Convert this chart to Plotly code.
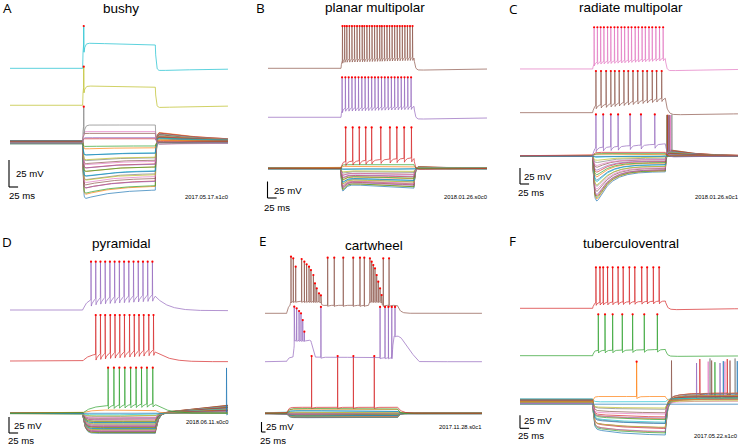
import numpy as np
import plotly.graph_objects as go

W, H = 738, 446
TAB10 = ["#1f77b4", "#ff7f0e", "#2ca02c", "#d62728", "#9467bd",
         "#8c564b", "#e377c2", "#7f7f7f", "#bcbd22", "#17becf"]

REST_SPREAD = [0.0, 0.7, -0.5, 1.0, -0.9, 0.3, -0.2, 1.3, -1.2, 0.5, -0.7, 0.9]

# ======================= DATA (mV re. rest, ms re. step onset) =======================
# ---- A: bushy ----
A_family_levels = [-43.5, -41, -38.9, -36.4, -34.5, -33.3, -31, -30.2, -28.1, -26.5,
                   -25.6, -23.5, -22.5, -20.5, -19.4, -17.5, -16.4, -14.5, -13.3, -11.1,
                   -8.6, -5.6, -2.5, 2.2, 4.3, 7.4, 10.5]
A_spk_offset = [0, 34.3, 68.5]
A_spk_level = [16, 16.7, 21.6]
A_spk_drift = [0, -1.2, -1.8]
A_spk_times = [[3], [3], [3]]
A_spk_peaks = [33, 35.7, 39.2]
A_spk_post = [-2, -2.2, -2.2]

# ---- B: planar multipolar ----
B_family_levels = [-30, -28.5, -27.5, -26, -25, -23.8, -22.7, -21.5, -20, -19, -17.7,
                   -16.5, -15, -13.5, -11.6, -10, -8.5, -6.5, -4.5, -2.5, 0, 2.5, 6]
B_spk_offset = [0, 77.3, 151.5]
B_spk_level = [16, 17, 17]
B_spk_drift = [6, 3, 3]
B_spk_times = [[12.8, 32, 50, 67.7, 84, 109, 134, 153, 173, 193],
               [3, 12, 21, 30, 39, 48, 57, 66, 75, 84, 93, 102, 111, 120, 129, 138, 147,
                156, 165, 174, 183, 192],
               [4, 10, 16, 23, 30, 37, 44, 51, 58, 64, 71, 78, 85, 92, 99, 106, 112, 119,
                126, 133, 140, 147, 154, 161, 168, 175, 182, 189, 196]]
B_spk_peaks = [62, 60.6, 64]
B_spk_post = [-2, -3, -3]

# ---- C: radiate multipolar ----
C_family_levels = [-24.5, -23.5, -22.5, -21.9, -20.8, -19.3, -18, -16.7, -15.5, -14, -13,
                   -11.5, -10.2, -8.9, -7.6, -6.3, -5, -3.6, -2.3, -1, 0.8, 2.6, 4, 5.2]
C_rebound_index = [0, 1, 2, 3, 4, 5, 6, 7]
C_rebound_times = [204, 205, 206, 207, 209, 211, 214, 218]
C_rebound_peak = 64
C_spk_offset = [0, 67.7, 136]
C_spk_level = [19, 23, 17]
C_spk_drift = [6, 12, 6]
C_spk_times = [[9, 29, 50, 70, 103, 133, 171],
               [9, 23, 37, 50, 61, 73, 86, 98, 111, 124, 138, 150, 164, 176, 190],
               [4, 13, 22, 31, 41, 50, 60, 69, 79, 88, 98, 107, 117, 126, 136, 145, 155,
                164, 174, 184, 194]]
C_spk_peaks = [65, 65.1, 65.2]
C_spk_post = [-2, -3.6, -3]

# ---- D: pyramidal ----
D_family_levels = [-31.3, -30.6, -29.8, -29.1, -28.2, -27.4, -26.6, -25.9, -25.1, -24.3,
                   -23.5, -22.7, -21.9, -21.2, -20.4, -19.3, -18.2, -17.2, -16.2, -15.1,
                   -14.1, -13.1, -12.0, -10.7, -9.4, -8.1, -6.8, -5.2, -3.7, -2.4, -0.9, 4.7]
D_late_index = [30]
D_late_times = [396]
D_late_peak = 71
D_spk_offset = [0, 81.7, 161.4]
D_spk_level = [15, 18, 24]
D_spk_drift = [4, 8, 6]
D_spk_times = [[70, 86, 101, 116, 132, 147, 162, 177, 193],
               [36, 49, 62, 76, 89, 102, 115, 129, 142, 155, 168, 182, 195],
               [23, 36, 49, 62, 75, 88, 101, 114, 127, 140, 153, 166, 179, 192]]
D_spk_peaks = [71.3, 71.9, 75.5]
D_spk_post = [0, -2, -2]

# ---- E: cartwheel ----
E_family_levels = [-11, -10.5, -10, -9.5, -9, -8.5, -8, -7.5, -7, -6.5, -6, -5, -4, -3,
                   -2, -1, 0, 1.5, 3, 5, 7.5, 10, 12.5]
E_spk_offset = [0, 129, 250]
E_spk_level = [15, 10, 20]
E_spk_drift = [0, -2, 0]
E_spk_times = [[155, 317, 415, 545],
               [47, 62, 77, 89, 100, 110, 213, 581, 612, 633, 654, 674],
               [26.8, 41, 56, 93, 110, 124, 139, 151, 166, 176, 187, 201, 213, 255, 296,
                352, 414, 456, 483, 518, 529, 539, 549.5, 560, 570, 581, 591, 601, 637]]
E_spk_peaks = [[143],
               [137.5, 133.5, 126.8, 121, 104, 75, 137, 137, 137, 137, 137, 137],
               [141.5, 137.5, 116.5, 135.8, 129, 122.5, 116.5, 108, 95.8, 75, 62.5, 50,
                45, 139, 139, 139, 139, 139, 139, 137.5, 129, 120.8, 112.5, 95.8, 79,
                62.5, 45.8, 137.5, 137.5]]
E_spk_humps = [[], [(40, 175, 42, 10, 25), (655, 820, 55, 10, 110)],
               [(20, 225, 10, 5, 20), (510, 600, 10, 5, 15)]]
E_spk_post = [0, 0, 0]

# ---- F: tuberculoventral ----
F_family_levels = [-65, -62, -59, -56.5, -54.5, -52, -50, -47.5, -45, -42, -39.7, -37,
                   -35, -32.5, -30, -25.6, -20.5, -16, -11.5, -6.4, 1.3]
F_rebound_index = [5, 5, 5, 4, 4, 3, 3, 6, 6, 7, 7, 2, 0, 0]
F_rebound_times = [217, 327.5, 378, 286, 350.5, 295, 370.5, 318, 364, 323, 392, 336.5,
                   359.6, 398]
F_rebound_peak = 78
F_spk_offset = [0, 88.5, 179.6]
F_spk_level = [10, 12, 14]
F_spk_drift = [0, 2, 3]
F_spk_times = [[121],
               [15.5, 34, 55, 81.5, 110, 142, 178],
               [9, 20, 29, 41, 55, 70, 84, 101, 116, 135, 150, 167, 183]]
F_spk_peaks = [77, 79.6, 78.8]
F_spk_post = [5, -1.5, -3.2]

PANEL_TITLES = ["bushy", "planar multipolar", "radiate multipolar",
                "pyramidal", "cartwheel", "tuberculoventral"]
PANEL_LETTERS = ["A", "B", "C", "D", "E", "F"]
PANEL_IDS = ["2017.05.17.s1c0", "2018.01.26.s0c0", "2018.01.26.s0c1",
             "2018.06.11.s0c0", "2017.11.28.s0c1", "2017.05.22.s1c0"]
SCALE_MV, SCALE_MS = 25, 25

# ======================= geometry / style =======================
GEOM = [
    dict(cell=(0, 245, 0, 223), x0=10, sx=0.3633, y0=142.3, sy=1.08,
         bar=(9, 187), mv=(15, 173.5), ms=(8, 196), idp=(206.7, 196.7),
         let=(1.5, 8), tit=(121, 8)),
    dict(cell=(245, 490, 0, 223), x0=268, sx=0.365, y0=168.3, sy=0.66,
         bar=(267.5, 198), mv=(273, 190.5), ms=(263, 207), idp=(465.5, 196.7),
         let=(255, 8), tit=(374.7, 7.5)),
    dict(cell=(490, 738, 0, 223), x0=520, sx=0.3633, y0=156, sy=0.64,
         bar=(520, 184), mv=(523, 176), ms=(517, 192.7), idp=(716.3, 196.7),
         let=(508, 8.5), tit=(630.5, 7.5)),
    dict(cell=(0, 245, 223, 446), x0=10, sx=0.3633, y0=413.3, sy=0.64,
         bar=(9, 433), mv=(13, 425), ms=(7, 440.5), idp=(206.7, 421.7),
         let=(1, 242), tit=(121.3, 243.3)),
    dict(cell=(245, 490, 223, 446), x0=265, sx=0.1607, y0=413.3, sy=0.4,
         bar=(261.5, 432), mv=(265, 426.7), ms=(259, 440.5), idp=(460.3, 426.7),
         let=(258, 241), tit=(374.5, 245)),
    dict(cell=(490, 738, 223, 446), x0=520, sx=0.3633, y0=401.7, sy=0.52,
         bar=(520, 428.3), mv=(523, 420), ms=(517, 435.7), idp=(715.7, 435.7),
         let=(508, 241), tit=(630.5, 243.3)),
]

PROTO = [dict(on=200, off=400, T=600, dt=1.0), dict(on=200, off=400, T=600, dt=1.0),
         dict(on=200, off=400, T=600, dt=1.0), dict(on=200, off=400, T=600, dt=1.0),
         dict(on=135, off=825, T=1350, dt=2.0), dict(on=200, off=400, T=600, dt=1.0)]

FAM_STYLE = [
    dict(tm=1.5, sag=0.22, ts=80, toff=2, reb=-0.22, reb_pos=-0.12, trise=2, tdec=150, rest=1.2),
    dict(tm=2, sag=0.9, ts=8, drift=0.2, toff=3, reb=-0.1, reb_pos=-0.05, trise=3, tdec=40, rest=0.8),
    dict(tm=4, sag=2.9, ts=35, toff=3, reb=-0.5, reb_pos=-0.1, trise=3, tdec=70, rest=0.5),
    dict(tm=6, tm_pos=20, sag=0, toff=8, pdrift=-0.4, rest=0.4),
    dict(tm=12, sag=0, toff=12, rest=1.0),
    dict(tm=3, sag=-0.2, ts=80, toff=5, reb=-0.22, trise=30, tdec=1e9, rest=4.0),
]
SPK_STYLE = [
    dict(tm=[1, 1, 1], ahp=[8, 6, 8], tau=[3, 3, 3], toff=[2, 2, 2], tdec=[100, 200, 200]),
    dict(tm=[3, 2, 2], ahp=[6, 5, 5], tau=[4, 3, 2.5], toff=[3, 3, 3], tdec=[100, 200, 200]),
    dict(tm=[3, 3, 3], ahp=[6, 5, 4], tau=[4, 4, 3], toff=[5, 6, 3], tdec=[100, 300, 150]),
    dict(tm=[20, 15, 12], ahp=[5, 9, 10], tau=[5, 5, 5], toff=[30, 35, 35], tdec=[300, 300, 300]),
    dict(tm=[10, 10, 8], ahp=[3, 3, 3], tau=[10, 10, 8], toff=[25, 40, 15], tdec=[300, 300, 300]),
    dict(tm=[3, 3, 3], ahp=[4, 5, 5], tau=[5, 4, 3], toff=[5, 5, 6], tdec=[1e9, 200, 150]),
]

DATA = [
    dict(fam=A_family_levels, off=A_spk_offset, lev=A_spk_level, dr=A_spk_drift,
         st=A_spk_times, pk=A_spk_peaks, post=A_spk_post),
    dict(fam=B_family_levels, off=B_spk_offset, lev=B_spk_level, dr=B_spk_drift,
         st=B_spk_times, pk=B_spk_peaks, post=B_spk_post),
    dict(fam=C_family_levels, off=C_spk_offset, lev=C_spk_level, dr=C_spk_drift,
         st=C_spk_times, pk=C_spk_peaks, post=C_spk_post,
         late=(C_rebound_index, C_rebound_times, C_rebound_peak)),
    dict(fam=D_family_levels, off=D_spk_offset, lev=D_spk_level, dr=D_spk_drift,
         st=D_spk_times, pk=D_spk_peaks, post=D_spk_post,
         late=(D_late_index, D_late_times, D_late_peak)),
    dict(fam=E_family_levels, off=E_spk_offset, lev=E_spk_level, dr=E_spk_drift,
         st=E_spk_times, pk=E_spk_peaks, post=E_spk_post, humps=E_spk_humps),
    dict(fam=F_family_levels, off=F_spk_offset, lev=F_spk_level, dr=F_spk_drift,
         st=F_spk_times, pk=F_spk_peaks, post=F_spk_post,
         late=(F_rebound_index, F_rebound_times, F_rebound_peak)),
]


def build(p, g):
    on, off, T, dt = g["on"], g["off"], g["T"], g["dt"]
    dur = off - on
    sp = np.asarray(p.get("spikes", []), float) + on
    pk = np.asarray(p.get("peaks", [0]), float)
    pk = np.broadcast_to(pk, sp.shape).copy() if len(sp) else np.zeros(0)
    t = np.arange(0.0, T + 1e-9, dt)
    t = np.unique(np.concatenate([t, [on, off], sp - 0.4, sp, sp + 0.8]))
    t = t[(t >= 0) & (t <= T)]
    L, S, tm, ts, D = p["L"], p.get("S", 0.0), p["tm"], p.get("ts", 50.0), p.get("D", 0.0)

    def step_env(x):
        a = 1 - np.exp(-x / tm)
        return L * a + S * (np.exp(-x / ts) - np.exp(-x / tm)) + D * (x / dur - 1) * a

    v = np.zeros_like(t)
    m = (t > on) & (t <= off)
    v[m] = step_env(t[m] - on)
    vend = float(step_env(np.array([float(dur)]))[0])
    mp = t > off
    x = t[mp] - off
    v[mp] = (vend * np.exp(-x / p["toff"])
             + p.get("R", 0.0) * (1 - np.exp(-x / p.get("trise", 2.0))) * np.exp(-x / p.get("tdec", 1e9))
             + p.get("P", 0.0) * x / (T - off))
    for (a, b, amp, r, f) in p.get("humps", []):
        v += np.interp(t, [on + a, on + a + r, on + b - f, on + b], [0, amp, amp, 0], left=0, right=0)
    if len(sp):
        order = np.argsort(sp)
        sp, pk = sp[order], pk[order]
        e = v.copy()
        k = np.searchsorted(sp - 0.4, t, side="right") - 1
        ok = k >= 0
        s = sp[k[ok]]
        pp = pk[k[ok]]
        d = t[ok] - s
        ee = e[ok]
        ahp, tau = p.get("ahp", 5.0), p.get("tau", 3.0)
        out = ee - ahp * np.exp(-np.clip(d - 0.8, 0, None) / tau)
        up = d < 0
        out[up] = ee[up] + (pp[up] - ee[up]) * (d[up] + 0.4) / 0.4
        dn = (d >= 0) & (d <= 0.8)
        out[dn] = pp[dn] + (ee[dn] - ahp - pp[dn]) * d[dn] / 0.8
        v[ok] = out
    base = p.get("base", 0.0)
    return t, v + base, sp, pk + base


fig = go.Figure()
layout = dict(width=W, height=H, margin=dict(l=0, r=0, t=0, b=0, autoexpand=False),
              paper_bgcolor="white", plot_bgcolor="rgba(0,0,0,0)", showlegend=False,
              hovermode=False, dragmode=False)
annotations, shapes = [], []
LW = 0.7

for i in range(6):
    g, prot, fs, ss, dd = GEOM[i], PROTO[i], FAM_STYLE[i], SPK_STYLE[i], DATA[i]
    ax = "" if i == 0 else str(i + 1)
    xa, ya = "x" + ax, "y" + ax
    L_, R_, T_, B_ = g["cell"]
    layout["xaxis" + ax] = dict(domain=[L_ / W, R_ / W], visible=False, anchor=ya, fixedrange=True,
                                range=[(L_ - g["x0"]) / g["sx"], (R_ - g["x0"]) / g["sx"]])
    layout["yaxis" + ax] = dict(domain=[1 - B_ / H, 1 - T_ / H], visible=False, anchor=xa, fixedrange=True,
                                range=[(g["y0"] - B_) / g["sy"], (g["y0"] - T_) / g["sy"]])
    late = {}
    late_peak = 0
    if "late" in dd:
        idxs, tms, lp = dd["late"]
        for j, tt in zip(idxs, tms):
            late.setdefault(j, []).append(tt)
        late_peak = lp
    nf = len(dd["fam"])
    dot_x, dot_y = [], []
    # family (non-spiking during step)
    for j, Lv in enumerate(dd["fam"]):
        neg = Lv < 0
        p = dict(L=Lv,
                 S=fs.get("sag", 0) * Lv if neg else 0.0,
                 tm=fs["tm"] if neg else fs.get("tm_pos", fs["tm"]),
                 ts=fs.get("ts", 50),
                 D=fs.get("drift", 0) * Lv if neg else 0.0,
                 toff=fs["toff"],
                 R=(fs.get("reb", 0) * Lv) if neg else fs.get("reb_pos", 0) * Lv,
                 trise=fs.get("trise", 2), tdec=fs.get("tdec", 1e9),
                 P=fs.get("pdrift", 0) * Lv if neg else 0.0,
                 base=REST_SPREAD[j % len(REST_SPREAD)] * fs["rest"],
                 ahp=3, tau=5)
        if j in late:
            p["spikes"] = [tt for tt in late[j]]
            p["peaks"] = [late_peak] * len(late[j])
        t, v, _, _ = build(p, prot)
        fig.add_trace(go.Scatter(x=t, y=v, mode="lines", xaxis=xa, yaxis=ya,
                                 line=dict(color=TAB10[j % 10], width=LW)))
    # spiking traces (family top, then upper two)
    for k in range(3):
        pk = dd["pk"][k]
        p = dict(L=dd["lev"][k], D=dd["dr"][k], tm=ss["tm"][k], S=0.0, ts=50,
                 spikes=dd["st"][k], peaks=pk if isinstance(pk, list) else [pk],
                 ahp=ss["ahp"][k], tau=ss["tau"][k], toff=ss["toff"][k],
                 R=dd["post"][k], trise=3 if dd["post"][k] < 0 else 30, tdec=ss["tdec"][k],
                 humps=dd.get("humps", [[], [], []])[k])
        t, v, sp, pkv = build(p, prot)
        off = dd["off"][k]
        fig.add_trace(go.Scatter(x=t, y=v + off, mode="lines", xaxis=xa, yaxis=ya,
                                 line=dict(color=TAB10[(nf + k) % 10], width=LW)))
        inside = (sp > prot["on"]) & (sp <= prot["off"])
        dot_x += list(sp[inside])
        dot_y += list(pkv[inside] + off)
    fig.add_trace(go.Scatter(x=dot_x, y=dot_y, mode="markers", xaxis=xa, yaxis=ya,
                             marker=dict(color="#ff0000", size=2.2, line=dict(width=0))))
    # scale bar (data units through the panel axes)
    cx = (g["bar"][0] - g["x0"]) / g["sx"]
    cy = (g["y0"] - g["bar"][1]) / g["sy"]
    for (xx0, yy0, xx1, yy1) in [(cx, cy, cx, cy + SCALE_MV), (cx, cy, cx + SCALE_MS, cy)]:
        shapes.append(dict(type="line", xref=xa, yref=ya, x0=xx0, y0=yy0, x1=xx1, y1=yy1,
                           line=dict(color="black", width=1.1)))

    def P(px, py):
        return px / W, 1 - py / H

    for txt, pos, size, anc, fam in [
        (f"{SCALE_MV} mV", g["mv"], 9.6, "left", "Liberation Sans"),
        (f"{SCALE_MS} ms", g["ms"], 9.6, "left", "Liberation Sans"),
        (PANEL_IDS[i], g["idp"], 5.8, "center", "Liberation Sans"),
        (PANEL_LETTERS[i], g["let"], 13.5, "left", "Open Sans"),
        (PANEL_TITLES[i], g["tit"], 13.5, "center", "Liberation Sans"),
    ]:
        xp, yp = P(*pos)
        annotations.append(dict(text=txt, x=xp, y=yp, xref="paper", yref="paper",
                                xanchor=anc, yanchor="middle", showarrow=False, borderpad=0,
                                font=dict(family=fam, size=size, color="black")))

layout["annotations"] = annotations
layout["shapes"] = shapes
fig.update_layout(**layout)
fig.write_html("out.html", config={"displayModeBar": False, "staticPlot": True},
               post_script="document.body.style.margin='0';document.body.style.padding='0';"
                           "document.body.style.overflow='hidden';")
